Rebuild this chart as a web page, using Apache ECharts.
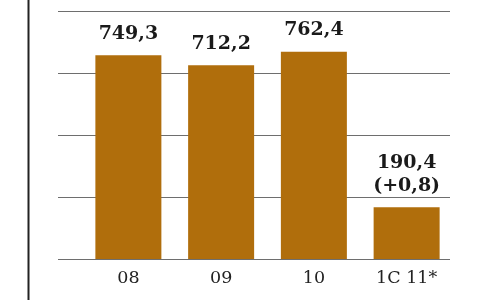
<!DOCTYPE html>
<html><head><meta charset="utf-8">
<script src="https://cdn.jsdelivr.net/npm/echarts@6/dist/echarts.min.js"></script>
<style>html,body{margin:0;padding:0;background:#fff}#c{width:478px;height:300px}</style>
</head><body><div id="c"></div>
<script>
const categories = ['08', '09', '10', '1C 11*'];
const values = [749.3, 712.2, 762.4, 190.4];
const notes = ['', '', '', '(+0,8)'];
const yMax = 912;
const yStep = 228;

const fmt = v => v.toFixed(1).replace('.', ',');
const chart = echarts.init(document.getElementById('c'), null, {renderer: 'canvas'});
chart.setOption({
  animation: false,
  backgroundColor: '#fff',
  grid: [
    {left: 58, right: 28, top: 11, bottom: 41},
    {left: 82, right: 25, top: 11, bottom: 41}
  ],
  xAxis: [
    {gridIndex: 0, type: 'value', show: false},
    {gridIndex: 1, type: 'category', data: categories,
     axisLine: {show: false}, axisTick: {show: false},
     axisLabel: {margin: 10, color: '#222', fontFamily: 'DejaVu Serif', fontSize: 17.5}}
  ],
  yAxis: [
    {gridIndex: 0, type: 'value', min: 0, max: yMax, interval: yStep,
     axisLabel: {show: false}, axisLine: {show: false}, axisTick: {show: false},
     splitLine: {lineStyle: {color: '#6e6e6e', width: 1}}},
    {gridIndex: 1, type: 'value', min: 0, max: yMax, interval: yStep, show: false,
     splitLine: {show: false}}
  ],
  series: [{
    type: 'bar', xAxisIndex: 1, yAxisIndex: 1,
    data: values, barWidth: 66,
    itemStyle: {color: '#b06e0c'},
    label: {
      show: true, position: 'top', distance: 10,
      color: '#1a1a1a', fontFamily: 'DejaVu Serif', fontWeight: 'bold', fontSize: 19,
      lineHeight: 23,
      formatter: p => notes[p.dataIndex] ? fmt(p.value) + '\n' + notes[p.dataIndex] : fmt(p.value)
    }
  }],
  graphic: [{
    type: 'line', shape: {x1: 28.5, y1: 0, x2: 28.5, y2: 300},
    style: {stroke: '#222', lineWidth: 2}
  }]
});
</script></body></html>
